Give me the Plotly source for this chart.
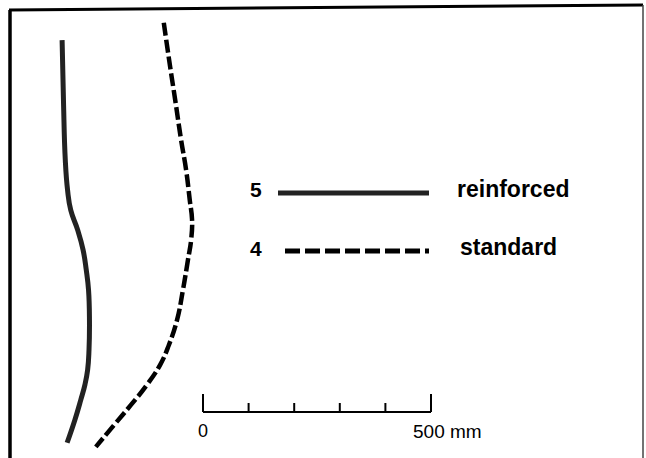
import plotly.graph_objects as go

# Deflection profiles (x: mm, y: depth in same mm scale, downward)
reinf_x = [-309, -306, -302, -297, -290, -275, -263, -256, -251, -249, -250, -253, -259, -268, -281, -298]
reinf_y = [88, 219, 351, 417, 461, 504, 548, 592, 636, 702, 768, 811, 844, 877, 921, 971]

std_x = [-86, -72, -61, -48, -37, -29, -24, -26, -33, -44, -57, -75, -94, -123, -158, -195, -235]
std_y = [50, 147, 219, 307, 373, 439, 482, 526, 570, 636, 702, 757, 800, 844, 888, 932, 980]

scale_ticks = [0, 100, 200, 300, 400, 500]
scale_labels = ["0", "500 mm"]
legend_nums = ["5", "4"]
legend_names = ["reinforced", "standard"]

W, H = 646, 458
PX = 0.456  # px per mm
xr = [-203 / PX, (W - 203) / PX]
yr = [H / PX, 0]

fig = go.Figure()
fig.add_trace(go.Scatter(x=reinf_x, y=reinf_y, mode="lines",
                         line=dict(color="#222222", width=5, shape="spline", smoothing=1.3),
                         showlegend=False, hoverinfo="skip"))
fig.add_trace(go.Scatter(x=std_x, y=std_y, mode="lines",
                         line=dict(color="black", width=4.5, dash="13px,4px", shape="spline", smoothing=1.3),
                         showlegend=False, hoverinfo="skip"))

# scale bar
bar_y = 412 / PX
end_top = 394 / PX
mid_top = 403 / PX
fig.add_trace(go.Scatter(x=[scale_ticks[0], scale_ticks[-1]], y=[bar_y, bar_y], mode="lines",
                         line=dict(color="black", width=2), showlegend=False, hoverinfo="skip"))
for i, t in enumerate(scale_ticks):
    top = end_top if i in (0, len(scale_ticks) - 1) else mid_top
    fig.add_trace(go.Scatter(x=[t, t], y=[bar_y, top], mode="lines",
                             line=dict(color="black", width=2), showlegend=False, hoverinfo="skip"))
fig.add_annotation(x=scale_ticks[0], y=431 / PX, text=scale_labels[0], showarrow=False,
                   font=dict(family="Liberation Sans", size=18, color="black"),
                   xanchor="center", yanchor="middle")
fig.add_annotation(x=scale_ticks[-1], y=431 / PX, text=scale_labels[1], showarrow=False,
                   font=dict(family="Liberation Sans", size=19, color="black"),
                   xanchor="left", yanchor="middle", xshift=-20)

def px(x): return x / W
def py(y): return 1 - y / H

shapes = []
# frame
shapes.append(dict(type="line", xref="paper", yref="paper", x0=px(10), y0=py(10), x1=px(10), y1=py(458),
                   line=dict(color="black", width=3.5)))
shapes.append(dict(type="line", xref="paper", yref="paper", x0=px(9), y0=py(10), x1=px(643), y1=py(5),
                   line=dict(color="black", width=3)))
shapes.append(dict(type="line", xref="paper", yref="paper", x0=px(643), y0=py(5), x1=px(643), y1=py(458),
                   line=dict(color="#444", width=1.5)))
# legend samples
shapes.append(dict(type="line", xref="paper", yref="paper", x0=px(278), y0=py(193), x1=px(429), y1=py(193),
                   line=dict(color="#222222", width=5)))
shapes.append(dict(type="line", xref="paper", yref="paper", x0=px(285), y0=py(251), x1=px(429), y1=py(251),
                   line=dict(color="black", width=5, dash="15px,5px")))
fig.update_layout(shapes=shapes)

for num, name, yy, nx in zip(legend_nums, legend_names, [190, 248], [455, 458]):
    fig.add_annotation(xref="paper", yref="paper", x=px(256), y=py(yy), text=f"<b>{num}</b>",
                       showarrow=False, font=dict(family="Liberation Sans", size=21, color="black"),
                       xanchor="center", yanchor="middle")
    fig.add_annotation(xref="paper", yref="paper", x=px(nx), y=py(yy - 1), text=f"<b>{name}</b>",
                       showarrow=False, font=dict(family="Liberation Sans", size=23, color="black"),
                       xanchor="left", yanchor="middle")

fig.update_layout(width=W, height=H, margin=dict(l=0, r=0, t=0, b=0),
                  paper_bgcolor="white", plot_bgcolor="white",
                  xaxis=dict(range=xr, visible=False, fixedrange=True),
                  yaxis=dict(range=yr, visible=False, fixedrange=True))
fig.write_html("out.html")
